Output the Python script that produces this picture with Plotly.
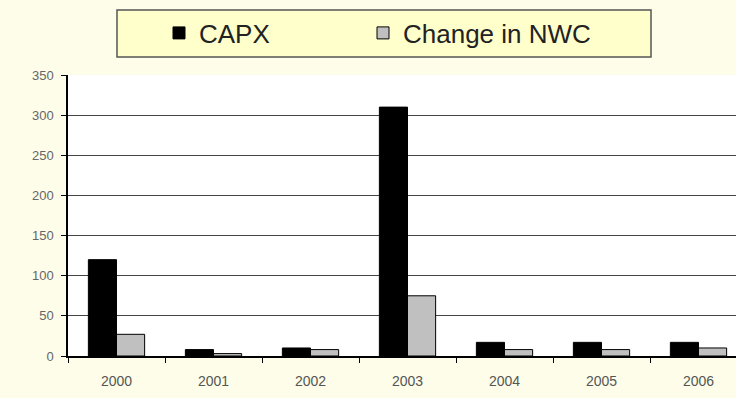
import plotly.graph_objects as go

years = ["2000", "2001", "2002", "2003", "2004", "2005", "2006"]
capx = [120, 8, 10, 310, 17, 17, 17]
change_nwc = [27, 3, 8, 75, 8, 8, 10]
y_ticks = [0, 50, 100, 150, 200, 250, 300, 350]

W, H = 736, 398
L, R, T, B = 68, 0, 75, 42
cat_px = 97.0
plot_w = W - L - R
x_end = -0.5 + plot_w / cat_px

fig = go.Figure()
fig.add_trace(go.Bar(
    x=years, y=capx, name="CAPX", legend="legend",
    marker=dict(color="#000000", line=dict(color="#000000", width=1)),
))
fig.add_trace(go.Bar(
    x=years, y=change_nwc, name="Change in NWC", legend="legend2",
    marker=dict(color="#c0c0c0", line=dict(color="#000000", width=1)),
))

# legend frame
fig.add_shape(
    type="rect", xref="paper", yref="paper",
    x0=(117 - L) / plot_w, x1=(651 - L) / plot_w,
    y0=(H - B - 57) / (H - B - T), y1=(H - B - 10) / (H - B - T),
    fillcolor="#ffffcc", line=dict(color="#555555", width=1.5),
    layer="below",
)

legend_style = dict(
    orientation="h",
    xref="container", yref="container",
    yanchor="middle", xanchor="left",
    bgcolor="rgba(0,0,0,0)",
    font=dict(size=26, color="#222222"),
    itemwidth=30,
)

fig.update_layout(
    width=W, height=H,
    margin=dict(l=L, r=R, t=T, b=B),
    paper_bgcolor="#fdfdea",
    plot_bgcolor="#ffffff",
    barmode="group",
    bargap=0.42,
    bargroupgap=0.0,
    font=dict(family="Liberation Sans, Arial, sans-serif", color="#555555"),
    showlegend=True,
    legend=dict(legend_style, x=159 / W, y=1 - 33 / H),
    legend2=dict(legend_style, x=363 / W, y=1 - 33 / H),
    xaxis=dict(
        type="category",
        range=[-0.5, x_end],
        showline=True, linecolor="#000000", linewidth=1.5,
        ticks="outside", tickson="boundaries", ticklen=5, tickcolor="#000000",
        showgrid=False,
        tickfont=dict(size=14, color="#555555"),
        ticklabelstandoff=11,
    ),
    yaxis=dict(
        range=[0, 350],
        tickvals=y_ticks,
        showline=True, linecolor="#000000", linewidth=1.5,
        ticks="outside", ticklen=5, tickcolor="#000000",
        showgrid=True, gridcolor="#444444", gridwidth=1,
        zeroline=False,
        tickfont=dict(size=13, color="#666666"),
        ticklabelstandoff=5,
    ),
)

fig.write_html("out.html")
